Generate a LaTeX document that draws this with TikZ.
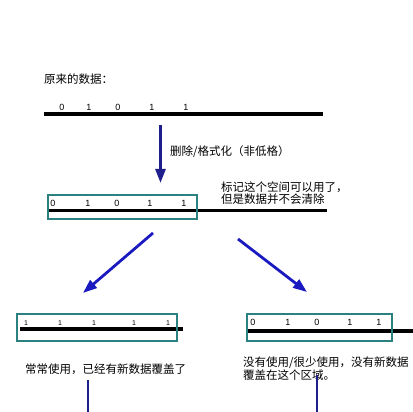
\documentclass[tikz,border=0pt]{standalone}
\usepackage{fontspec}
\setmainfont{Liberation Sans}
\newfontfamily\cjk{Noto Sans CJK SC}
\usetikzlibrary{arrows.meta}
\definecolor{arrowblue}{HTML}{1A1AC0}
\definecolor{navyline}{HTML}{1E1E8C}
\definecolor{tealbox}{HTML}{2B8080}
\begin{document}
\begin{tikzpicture}[x=1pt,y=-1pt,
  cjktext/.style={font=\cjk\fontsize{11.5}{11.5}\selectfont, inner sep=0pt, anchor=west, align=left},
  digit/.style={font=\fontsize{9}{9}\selectfont, inner sep=0pt},
  smalldigit/.style={font=\fontsize{7}{7}\selectfont, inner sep=0pt},
  dataline/.style={line width=3.5pt},
  databox/.style={draw=tealbox, line width=2.5pt},
  bigarrow/.style={draw=arrowblue, line width=2.8pt, -{Triangle[length=14pt,width=10pt]}},
  plainline/.style={draw=navyline, line width=2.8pt}]
\useasboundingbox (0,0) rectangle (413,412);

% original data
\node[cjktext] (title) at (44,79) {原来的数据：};
\coordinate (l1a) at (44,114);
\coordinate (l1b) at (323,114);
\draw[dataline] (l1a) -- (l1b);
\foreach \x/\d [count=\i] in {62/0,89/1,118/0,152/1,186/1}
  \node[digit] (d1\i) at (\x,107.5) {\d};

% delete / format arrow
\coordinate (a1s) at (160.5,125);
\coordinate (a1e) at (160.5,183);
\draw[bigarrow, draw=navyline] (a1s) -- (a1e);
\node[cjktext] (dellabel) at (170,152) {删除/格式化（非低格）};

% marked box
\coordinate (l2a) at (49,210.5);
\coordinate (l2b) at (327,210.5);
\draw[dataline] (l2a) -- (l2b);
\foreach \x/\d [count=\i] in {53/0,88/1,117/0,150/1,184/1}
  \node[digit] (d2\i) at (\x,203.5) {\d};
\node[databox, minimum width=149pt, minimum height=24pt, inner sep=0pt] (box2) at (122.5,207) {};
\node[cjktext] (marklabel) at (221,193) {标记这个空间可以用了，\\但是数据并不会清除};

% diagonal arrows
\coordinate (a2s) at (153,233);
\coordinate (a2e) at (83,293);
\draw[bigarrow] (a2s) -- (a2e);
\coordinate (a3s) at (238,239);
\coordinate (a3e) at (307,292);
\draw[bigarrow] (a3s) -- (a3e);

% left result
\coordinate (l3a) at (20,329);
\coordinate (l3b) at (183,329);
\draw[dataline] (l3a) -- (l3b);
\foreach \x [count=\i] in {26,60,94,134,168}
  \node[smalldigit] (d3\i) at (\x,323) {1};
\node[databox, minimum width=160pt, minimum height=27pt, inner sep=0pt] (box3) at (97,327.5) {};
\node[cjktext] (leftlabel) at (25,369) {常常使用，已经有新数据覆盖了};

% right result
\coordinate (l4a) at (248,331);
\coordinate (l4b) at (413,331);
\draw[dataline] (l4a) -- (l4b);
\foreach \x/\d [count=\i] in {253/0,288/1,317/0,350/1,379/1}
  \node[digit] (d4\i) at (\x,322) {\d};
\node[databox, minimum width=145pt, minimum height=27pt, inner sep=0pt] (box4) at (319.5,327.5) {};
\node[cjktext, font=\cjk\fontsize{11.5}{11}\selectfont] (rightlabel) at (243,369) {没有使用/很少使用，没有新数据\\覆盖在这个区域。};

% lines continuing downward
\coordinate (v1s) at (88,380);
\coordinate (v1e) at (88,412);
\draw[plainline] (v1s) -- (v1e);
\coordinate (v2s) at (317,375);
\coordinate (v2e) at (317,412);
\draw[plainline] (v2s) -- (v2e);
\end{tikzpicture}
\end{document}
